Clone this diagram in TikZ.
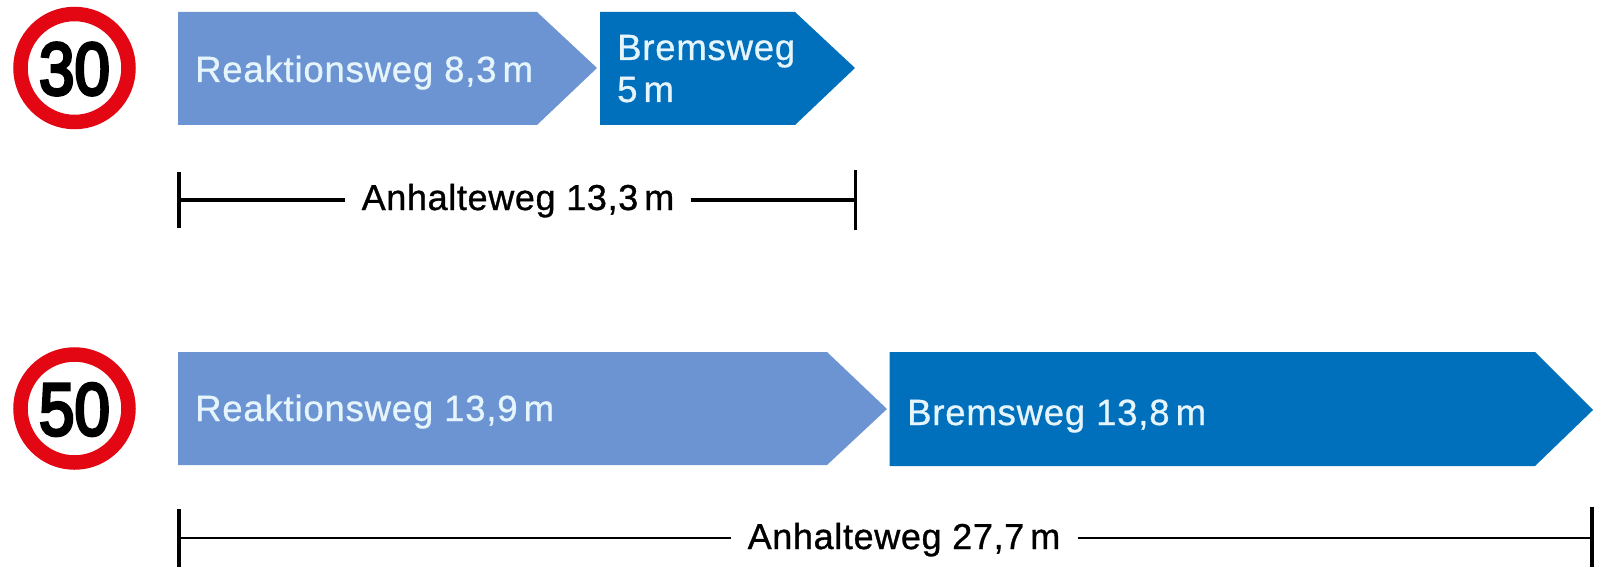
\documentclass[tikz,border=0pt]{standalone}
\usepackage{fontspec}
\setmainfont{Liberation Sans}
\newfontfamily\barfont[LetterSpace=2.2,FakeBold=0.8]{Liberation Sans}
\newfontfamily\dimfont[LetterSpace=1.8,FakeBold=0.9]{Liberation Sans}
\newfontfamily\signfont[FakeBold=4.5]{Liberation Sans}
\definecolor{lightblue}{HTML}{6C94D2}
\definecolor{darkblue}{HTML}{0070BD}
\definecolor{signred}{HTML}{E30613}
\definecolor{lbltext}{HTML}{E6F5FB}
\tikzset{
  reaction/.style={fill=lightblue},
  braking/.style={fill=darkblue},
  barlabel/.style={text=lbltext,font=\barfont\fontsize{36.5}{42}\selectfont,inner sep=0pt,anchor=base west,align=left},
  dimlabel/.style={text=black,font=\dimfont\fontsize{36}{42}\selectfont,inner ysep=0pt,anchor=base},
  dimline/.style={draw=black},
  tick/.style={draw=black,line width=3.6pt},
  signring/.style={circle,draw=signred,fill=white,line width=14.5pt,minimum size=108pt,inner sep=0pt},
  signtext/.style={font=\signfont\fontsize{74}{74}\selectfont,inner sep=0pt,anchor=base}
}
\begin{document}
\begin{tikzpicture}[x=1pt,y=-1pt]
\useasboundingbox (0,0) rectangle (1605,567);
% row 1
\node[signring] (sign30) at (74.5,68) {};
\node[signtext,xscale=0.86] (num30) at (74.5,94.5) {30};
\path[reaction] (178,12) -- (537,12) -- (597,68) -- (537,125) -- (178,125) -- cycle;
\path[braking] (600,12) -- (795,12) -- (855,68) -- (795,125) -- (600,125) -- cycle;
\node[barlabel] (r30) at (195,82) {Reaktionsweg 8,3\,m};
\node[barlabel] (b30a) at (617,60) {Bremsweg};
\node[barlabel] (b30b) at (617,102) {5\,m};
\coordinate (l30) at (179,200);
\coordinate (e30) at (855.5,200);
\node[dimlabel,inner xsep=16pt] (d30) at (518,210) {Anhalteweg 13,3\,m};
\draw[dimline,line width=3.4pt] (l30) -- (l30 -| d30.west);
\draw[dimline,line width=3.4pt] (e30 -| d30.east) -- (e30);
\draw[tick] (179,172) -- (l30) -- (179,228);
\draw[tick] (855.5,170) -- (e30) -- (855.5,230);
% row 2
\node[signring] (sign50) at (74.5,408.5) {};
\node[signtext,xscale=0.86] (num50) at (74.5,435) {50};
\path[reaction] (178,352) -- (827,352) -- (887,409) -- (827,465) -- (178,465) -- cycle;
\path[braking] (889.5,352) -- (1535,352) -- (1593,410) -- (1535,466) -- (889.5,466) -- cycle;
\node[barlabel] (r50) at (195,421) {Reaktionsweg 13,9\,m};
\node[barlabel] (b50) at (907,425) {Bremsweg 13,8\,m};
\coordinate (l50) at (179,538);
\coordinate (e50) at (1592,538);
\node[dimlabel,inner xsep=17pt] (d50) at (904,549) {Anhalteweg 27,7\,m};
\draw[dimline,line width=2.8pt] (l50) -- (l50 -| d50.west);
\draw[dimline,line width=2.8pt] (e50 -| d50.east) -- (e50);
\draw[tick] (179,509) -- (l50) -- (179,567);
\draw[tick] (1592,507) -- (e50) -- (1592,567);
\end{tikzpicture}
\end{document}
